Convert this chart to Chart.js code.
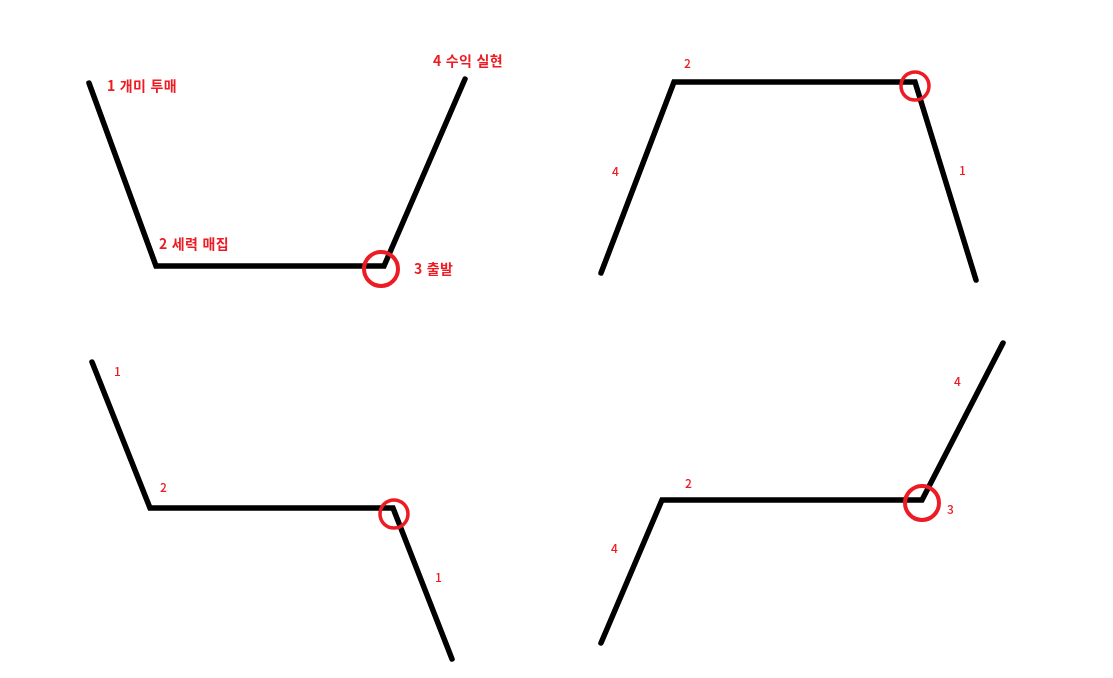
<!DOCTYPE html>
<html lang="ko">
<head>
<meta charset="utf-8">
<title>세력 매집 패턴</title>
<script src="https://cdn.jsdelivr.net/npm/chart.js@4"></script>
<style>
  html, body { margin: 0; padding: 0; background: #fff; }
  #wrap { position: relative; width: 1113px; height: 678px; }
</style>
</head>
<body>
<div id="wrap"><canvas id="pattern-chart"></canvas></div>
<script>
// each path (x to the right, y downward)
const pathTopLeft = [
  { x: 89, y: 83 }, { x: 156, y: 266 }, { x: 384, y: 266 }, { x: 465, y: 79 },
];
const pathTopRight = [
  { x: 601, y: 273 }, { x: 674, y: 82 }, { x: 915, y: 82 }, { x: 976, y: 280 },
];
const pathBottomLeft = [
  { x: 92, y: 362 }, { x: 150, y: 508 }, { x: 393, y: 508 }, { x: 452, y: 659 },
];
const pathBottomRight = [
  { x: 601, y: 643 }, { x: 662, y: 500 }, { x: 922, y: 500 }, { x: 1003, y: 343 },
];

// marked turning points
const circleBig = [{ x: 381, y: 269 }, { x: 922, y: 503 }];
const circleSmall = [{ x: 915, y: 86 }, { x: 394, y: 514 }];

// step labels
const labelsMain = [
  { x: 107, y: 86, text: "1 개미 투매" },
  { x: 159, y: 244, text: "2 세력 매집" },
  { x: 414, y: 269, text: "3 출발" },
  { x: 433, y: 61, text: "4 수익 실현" },
];
const labelsNum = [
  { x: 684, y: 63, text: "2" },
  { x: 612, y: 171, text: "4" },
  { x: 959, y: 170, text: "1" },
  { x: 114, y: 371, text: "1" },
  { x: 160, y: 487, text: "2" },
  { x: 435, y: 577, text: "1" },
  { x: 685, y: 483, text: "2" },
  { x: 954, y: 381, text: "4" },
  { x: 947, y: 509, text: "3" },
  { x: 611, y: 548, text: "4" },
];

const RED = "#ed1c24";

const textLabels = {
  id: "textLabels",
  afterDatasetsDraw(chart) {
    const { ctx, scales } = chart;
    ctx.save();
    ctx.fillStyle = RED;
    ctx.textBaseline = "middle";
    ctx.textAlign = "left";
    ctx.font = "bold 14px 'Noto Sans CJK KR', sans-serif";
    ctx.letterSpacing = "0.6px";
    labelsMain.forEach((l) => {
      ctx.fillText(l.text, scales.x.getPixelForValue(l.x), scales.y.getPixelForValue(l.y));
    });
    ctx.letterSpacing = "0px";
    ctx.font = "500 12px 'Noto Sans CJK KR', sans-serif";
    labelsNum.forEach((l) => {
      ctx.fillText(l.text, scales.x.getPixelForValue(l.x), scales.y.getPixelForValue(l.y));
    });
    ctx.restore();
  },
};

function pathSet(data) {
  return {
    data: data,
    showLine: true,
    borderColor: "#000",
    borderWidth: 5.5,
    borderCapStyle: "round",
    borderJoinStyle: "miter",
    pointRadius: 0,
    tension: 0,
    clip: false,
    order: 2,
  };
}

function circleSet(data, radius, width) {
  return {
    data: data,
    showLine: false,
    pointStyle: "circle",
    pointRadius: radius,
    pointBorderWidth: width,
    pointBorderColor: RED,
    pointBackgroundColor: "rgba(0,0,0,0)",
    clip: false,
    order: 1,
  };
}

new Chart(document.getElementById("pattern-chart"), {
  type: "scatter",
  data: {
    datasets: [
      circleSet(circleBig, 17, 4),
      circleSet(circleSmall, 14, 3.5),
      pathSet(pathTopLeft),
      pathSet(pathTopRight),
      pathSet(pathBottomLeft),
      pathSet(pathBottomRight),
    ],
  },
  options: {
    responsive: true,
    maintainAspectRatio: false,
    animation: false,
    layout: { padding: 0, autoPadding: false },
    plugins: {
      legend: { display: false },
      tooltip: { enabled: false },
    },
    scales: {
      x: { type: "linear", min: 0, max: 1113, display: false },
      y: { type: "linear", min: 0, max: 678, reverse: true, display: false },
    },
  },
  plugins: [textLabels],
});
</script>
</body>
</html>
